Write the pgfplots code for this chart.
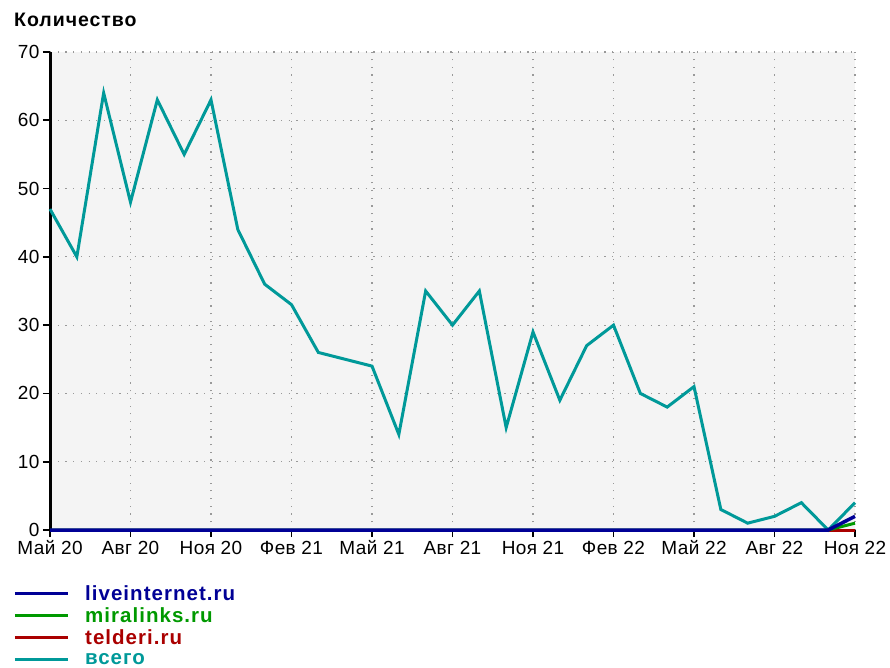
\documentclass[border=0pt]{standalone}
\usepackage{fontspec}
\setmainfont{Liberation Sans}
\newfontfamily\spfont[LetterSpace=5]{Liberation Sans}
\newfontfamily\tkfont[LetterSpace=2]{Liberation Sans}
\usepackage{pgfplots}
\pgfplotsset{compat=1.18}
\definecolor{cblue}{RGB}{0,0,150}
\definecolor{cgreen}{RGB}{0,153,0}
\definecolor{cred}{RGB}{170,0,0}
\definecolor{cteal}{RGB}{0,153,153}
\definecolor{bg}{RGB}{244,244,244}
\pgfplotstableread{
x total live mira tel
0 47 0 0 0
1 40 0 0 0
2 64 0 0 0
3 48 0 0 0
4 63 0 0 0
5 55 0 0 0
6 63 0 0 0
7 44 0 0 0
8 36 0 0 0
9 33 0 0 0
10 26 0 0 0
11 25 0 0 0
12 24 0 0 0
13 14 0 0 0
14 35 0 0 0
15 30 0 0 0
16 35 0 0 0
17 15 0 0 0
18 29 0 0 0
19 19 0 0 0
20 27 0 0 0
21 30 0 0 0
22 20 0 0 0
23 18 0 0 0
24 21 0 0 0
25 3 0 0 0
26 1 0 0 0
27 2 0 0 0
28 4 0 0 0
29 0 0 0 0
30 4 2 1 0
}\datatable
\begin{document}
\begin{tikzpicture}
\path (-50pt,-138pt) rectangle (840pt,530pt);
\begin{axis}[
  at={(0,0)}, anchor=south west,
  scale only axis, width=805pt, height=478pt,
  xmin=0, xmax=30, ymin=0, ymax=70,
  axis x line*=bottom, axis y line*=left,
  axis line style={-, line width=3pt, black},
  axis background/.style={fill=bg},
  xtick={0,3,...,30},
  xticklabels={Май 20,Авг 20,Ноя 20,Фев 21,Май 21,Авг 21,Ноя 21,Фев 22,Май 22,Авг 22,Ноя 22},
  ytick={0,10,...,70},
  grid=major,
  grid style={gray!80, line width=1.2pt, dash pattern=on 1.2pt off 6.5pt},
  tick align=outside,
  major tick length=7pt,
  tick style={black, line width=1.6pt},
  /pgf/number format/assume math mode=true,
  ticklabel style={font=\tkfont\fontsize{19}{19}\selectfont},
  xticklabel style={text height=14pt, text depth=4pt, yshift=0pt},
  clip=false,
  every axis plot/.append style={line width=3pt, mark=none, line join=miter},
]
\addplot[cteal] table[x=x,y=total]{\datatable};
\addplot[cred] table[x=x,y=tel]{\datatable};
\addplot[cgreen] table[x=x,y=mira]{\datatable};
\addplot[cblue, line width=3.5pt] table[x=x,y=live]{\datatable};
\end{axis}
\node[anchor=base west, font=\spfont\bfseries\fontsize{19.5}{19.5}\selectfont, inner sep=0pt] at (-36pt,503pt) {Количество};
\foreach \y/\c/\t in {-63/cblue/liveinternet.ru, -85/cgreen/miralinks.ru, -107/cred/telderi.ru, -129/cteal/всего}{
  \draw[\c, line width=3pt] (-35pt,\y pt) -- (18pt,\y pt);
  \node[anchor=west, text=\c, font=\spfont\bfseries\fontsize{20.5}{20.5}\selectfont, inner sep=0pt] at (35pt,\y pt) {\t};
}
\end{tikzpicture}
\end{document}
